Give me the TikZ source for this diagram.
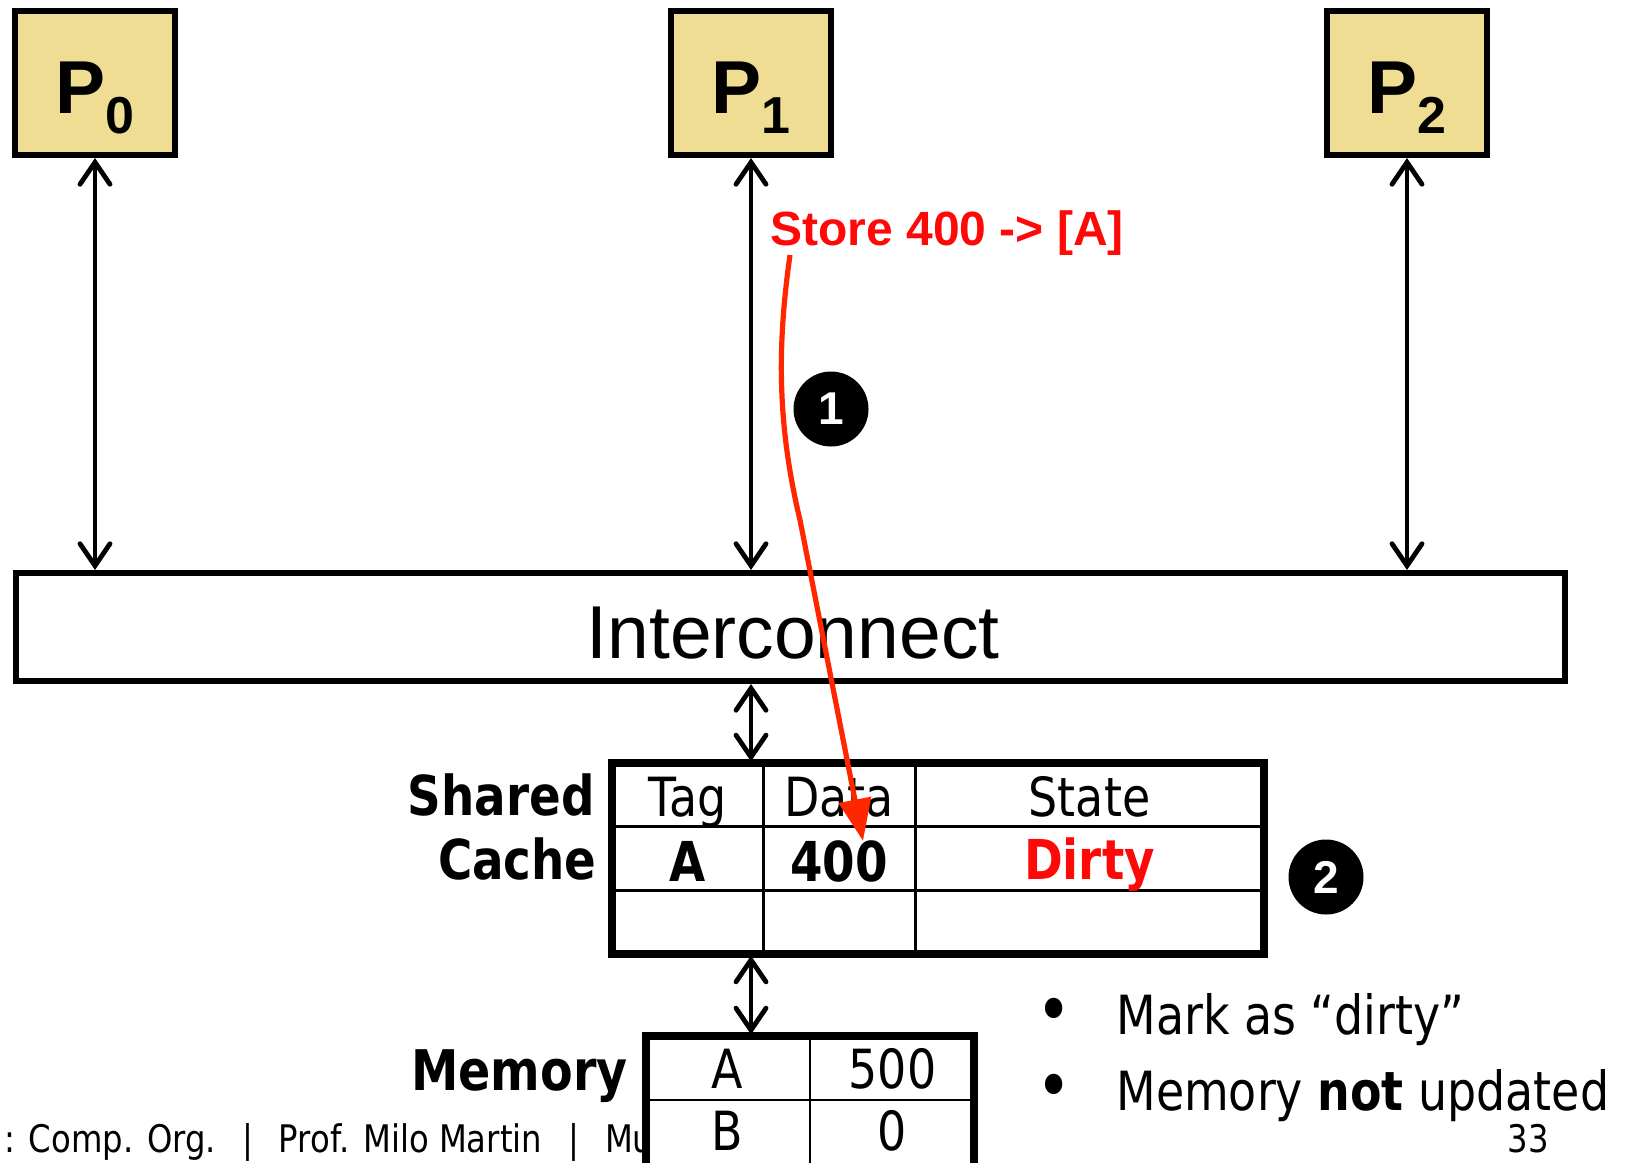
\documentclass[tikz,border=0pt]{standalone}
\usepackage{fontspec}
\usetikzlibrary{arrows.meta}
\newfontfamily\arialf{Liberation Sans}
\newfontfamily\tahomaf[FakeStretch=0.85]{DejaVu Sans}
\definecolor{pfill}{RGB}{239,221,148}
\definecolor{redline}{RGB}{255,38,0}
\definecolor{redtext}{RGB}{255,8,8}
\tikzset{
  pbox/.style={draw, line width=3pt, fill=pfill, minimum width=80pt, minimum height=72pt, inner sep=0pt},
  icbox/.style={draw, line width=3pt, fill=white, minimum width=774.5pt, minimum height=54pt, inner sep=0pt},
  tblbox/.style={draw, line width=2.6pt, fill=white, inner sep=0pt},
  innerln/.style={line width=1.5pt},
  meminner/.style={line width=1.1pt},
  bidir/.style={line width=2.4pt, line cap=round,
     {Straight Barb[length=11pt,width=15pt,line cap=round]}-{Straight Barb[length=11pt,width=15pt,line cap=round]}},
  redarrow/.style={draw=redline, line width=2.6pt, -{Triangle[length=21pt,width=16pt]}},
  txt/.style={inner sep=0pt, anchor=base},
  plab/.style={txt, font=\arialf\bfseries},
  tlab/.style={txt, font=\tahomaf\fontsize{27}{30}\selectfont},
  tbold/.style={txt, font=\tahomaf\bfseries\fontsize{27.5}{30}\selectfont},
  blab/.style={txt, anchor=base west, font=\tahomaf\fontsize{27}{30}\selectfont},
  flab/.style={txt, font=\tahomaf\fontsize{19}{21}\selectfont},
  numc/.style={circle, fill=black, minimum size=37.5pt, inner sep=0pt, text=white,
     font=\arialf\bfseries\fontsize{23}{23}\selectfont},
}
\newcommand{\plabel}[1]{{\fontsize{37.5}{40}\selectfont P}\raisebox{-10pt}{\fontsize{26}{28}\selectfont #1}}
\begin{document}
\begin{tikzpicture}[x=0.5pt,y=-0.5pt]
\fill[white] (0,0) rectangle (1632,1162);
\clip (0,0) rectangle (1632,1162);

% processors
\node[pbox] (p0) at (95,83) {};
\node[pbox] (p1) at (751,83) {};
\node[pbox] (p2) at (1407,83) {};
\node[plab] (p0t) at (95,113) {\plabel{0}};
\node[plab] (p1t) at (751,113) {\plabel{1}};
\node[plab] (p2t) at (1407,113) {\plabel{2}};

% interconnect
\node[icbox] (ic) at (790.5,627) {};
\node[txt, font=\arialf\fontsize{37.5}{40}\selectfont] (ict) at (793,658) {Interconnect};

% footer (behind memory)
\node[flab, anchor=base west] (foot) at (4,1152) {: Comp. Org.\hspace{13pt}|\hspace{13pt}Prof. Milo Martin\hspace{13pt}|\hspace{13pt}Mu};
\node[flab, anchor=base east] (page) at (1549,1152) {33};

% shared cache
\node[tblbox, minimum width=324.5pt, minimum height=94.5pt] (cache) at (938,858.5) {};
\draw[innerln] (763,764) -- (763,953);
\draw[innerln] (915,764) -- (915,953);
\draw[innerln] (613,826) -- (1262,826);
\draw[innerln] (613,890) -- (1262,890);
\draw[line width=2.6pt] (cache.north west) rectangle (cache.south east);
\node[tlab] (tag) at (687.5,816) {Tag};
\node[tlab] (data) at (839,816) {Data};
\node[tlab] (state) at (1089.5,816) {State};
\node[tbold] (ca) at (687.5,881) {A};
\node[tbold] (c400) at (839,881) {400};
\node[tbold, text=redtext] (dirty) at (1089.5,879) {Dirty};
\node[tbold, anchor=base east] (shared) at (595,815) {Shared};
\node[tbold, anchor=base east] (cachel) at (597,879) {Cache};

% memory
\node[tblbox, minimum width=163pt, minimum height=94pt] (mem) at (810,1131) {};
\draw[meminner] (810,1037) -- (810,1225);
\draw[meminner] (647,1100) -- (973,1100);
\draw[line width=2.6pt] (mem.north west) rectangle (mem.south east);
\node[tlab] (ma) at (727.5,1088) {A};
\node[tlab] (m500) at (892.5,1088) {500};
\node[tlab] (mb) at (727.5,1150) {B};
\node[tlab] (m0) at (892.5,1150) {0};
\node[tbold, anchor=base east, font=\tahomaf\bfseries\fontsize{28}{30}\selectfont] (meml) at (628,1090) {Memory};

% connectors
\draw[bidir] (p0.south) -- (p0.south |- ic.north);
\draw[bidir] (p1.south) -- (p1.south |- ic.north);
\draw[bidir] (p2.south) -- (p2.south |- ic.north);
\draw[bidir] (ic.south -| p1.south) -- (cache.north -| p1.south);
\draw[bidir] (cache.south -| p1.south) -- (mem.north -| p1.south);

% store label and red arrow
\node[txt, anchor=base west, text=redtext, font=\arialf\bfseries\fontsize{24}{26}\selectfont] (store) at (770,245) {Store 400 -> [A]};
\coordinate (s) at (790,255);
\coordinate (t) at (863,841);
\draw[redarrow] (s) .. controls (778,340) and (776,420) .. (800,520) -- (t);

% step numbers
\node[numc] (n1) at (831,409) {1};
\node[numc] (n2) at (1326,877) {2};

% bullets
\node[blab, anchor=center] (b1d) at (1054,1016) {\scalebox{1.3}{•}};
\node[blab] (b1) at (1116,1034) {Mark as “dirty”};
\node[blab, anchor=center] (b2d) at (1054,1092) {\scalebox{1.3}{•}};
\node[blab] (b2) at (1116,1110) {Memory \textbf{not} updated};
\end{tikzpicture}
\end{document}
